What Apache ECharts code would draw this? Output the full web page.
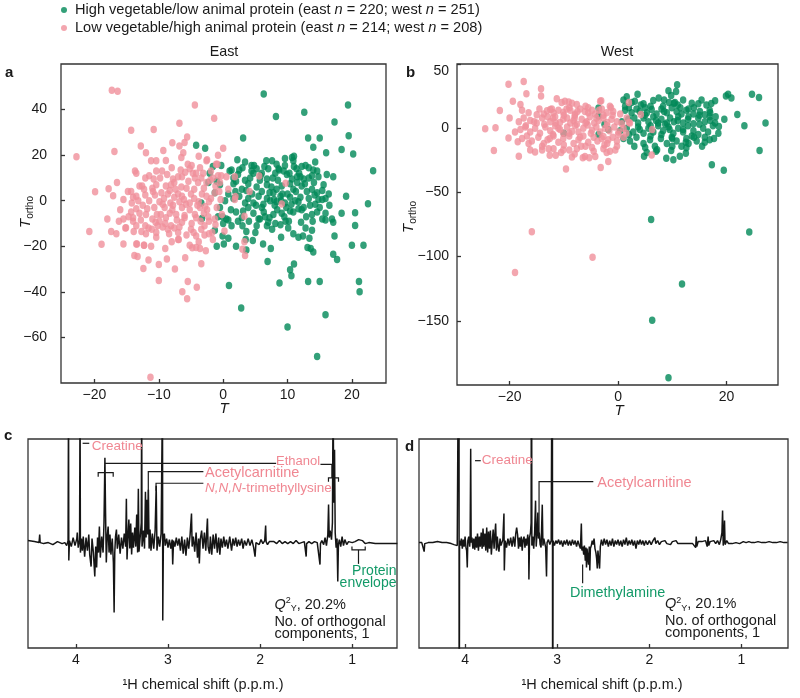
<!DOCTYPE html>
<html><head><meta charset="utf-8">
<script src="https://cdn.jsdelivr.net/npm/echarts@6/dist/echarts.min.js"></script>
<style>html,body{margin:0;padding:0;background:#fff}#c{width:800px;height:698px}</style>
</head><body><div id="c"></div>
<script>
const HIGH = 'High vegetable/low animal protein (east n = 220; west n = 251)';
const LOW = 'Low vegetable/high animal protein (east n = 214; west n = 208)';
const panelTitles = ['East', 'West'];
const xTicksA = [-20, -10, 0, 10, 20];
const xTicksB = [-20, 0, 20];
const ppmTicks = [1, 2, 3, 4];

// Panel a (East), [T, Tortho]
const eastHigh = [
[6.3,46.8],[8.2,37],[12.6,38.8],[19.4,42],[17.3,34.5],[19.5,28.5],[13.2,27.5],[15,27.5],[3.1,27.5],[14,23.5],[16,21],[18.4,22.5],[20.2,20.5],[-4.2,24.3],[-2.8,23],[23.3,13.2],[17.1,10.5],[22.5,-1.3],[19.1,2],[18.4,-5.5],[20.5,-5.3],[20.5,-10.9],[20,-19.5],[21.8,-19.5],[17.7,-25.8],[17.1,-23.5],[17.3,-15.5],[16.9,-8],[17.1,-9.5],[21.1,-35.5],[21.2,-39.9],[15.9,-50],[14.6,-68.4],[10,-55.4],[2.8,-47.1],[0.9,-37.2],[8.75,-36.1],[13.2,-35.5],[15,-35.5],[10.6,-32.9],[10.4,-30.3],[11,-27.8],[6.9,-26.7],[7.4,-21],[3.6,-21.6],[2,-20],[-1,-20],[-3.3,-7.8],
[-1.6,15],[-0.3,15.5],[1.3,13.5],[2.2,18],[2.5,13.5],[3.4,17],[4.4,15.5],[4.8,15.5],[5.2,14],[6.7,17.5],[7.6,17.5],[8.3,16],[8.6,14],[9.6,18.5],[10.7,19],[11,19.5],[10.9,17.5],[12.2,15],[12.8,15.5],[13.3,14.5],[14.3,17],[14,13.5],
[-2.1,12],[-1,8.5],[1,13],[1.6,10],[2.3,11.5],[3.4,9],[3.9,7.5],[4.7,12],[5.7,9],[6.8,9.5],[7.7,10],[8.7,13.5],[9.4,13],[9.9,11.5],[10.3,12],[10.7,9.5],[11.5,8],[12,10.5],[12.5,9.5],[13.3,10],[13.8,11],[14.8,10.5],[16.1,11.5],
[-2.3,8],[-1.3,3.5],[-0.5,7],[1.6,7.5],[2.9,5],[3.6,4.5],[5.2,6],[6,4],[6.8,7],[7.2,3.5],[7.8,3.5],[8.3,5],[9.1,6.5],[10.4,7.5],[10.9,5],[11.3,4],[12.2,6.5],[13,4],[13.8,5],[14.6,3.5],[15.4,4.5],
[-3.4,-1],[0.8,3],[1.6,1],[3.4,-1],[3.9,1],[4.7,-1],[5.1,-2],[6.25,-1.5],[6.8,1],[7.3,0],[7.9,0.5],[8.3,-0.5],[8.9,2],[9.6,-1],[10.4,1.5],[11.2,0],[11.7,-0.5],[12.5,-3],[13.3,1],[14.3,-1.5],[14.8,0.5],[15.4,0.5],[15.9,1],
[-0.8,-7],[-0.1,-7],[0.5,-8],[2,-5],[2.9,-7.5],[3.9,-3],[4.7,-5.5],[5.7,-8],[6.5,-7],[7.2,-7.5],[7.8,-6],[8.4,-4],[9.1,-5.5],[9.5,-7],[10.4,-4.5],[10.9,-5],[11.7,-3.5],[12.2,-4],[13.8,-6],[14.6,-5],[15.4,-8],[15.9,-5.5],
[-1.3,-13],[0,-10],[0.8,-8.5],[2.3,-9],[3.6,-13.5],[5.5,-8],[6.8,-11],[7.6,-12.5],[8.1,-10],[8.9,-10.5],[10.2,-9],[10.9,-14.5],[11.7,-16],[12.8,-12],[13.8,-13],[15.9,-8.5],
[-0.1,-15.5],[0.1,-19],[0.8,-16.5],[13.1,-20.5],[13.6,-21],[14,-22.5],[13.4,-16.5],
[1.2,-4],[2.5,2],[4.2,10],[6,12],[9,0],[10,3],[11.8,12],[12.9,-7],[14.1,8],[5.5,2],[8,-2],[9.8,-3],[3,14.5],[7,14],[11,15],[4,-9],[6,-3],[12,1.5],
[1.9,4],[3.1,-4.5],[4.5,3],[5.8,11],[6.3,-5],[7.5,6],[8.5,9],[9.2,3],[9.7,-9],[10.6,-1.5],[11.5,10.5],[12.1,-9.5],[12.7,7.5],[13.5,-2],[14.2,2.5],[15,-3],[5.2,-11],[3,-11],[2,8.5],[4.4,13],[6.4,15],[8.1,12],[9.6,15.5],[11.4,14],[13.9,-9],[10.1,-12],[7,-9.5],[5,-14],[1.3,-11],[0.3,0],[-0.5,-3],[15.6,7],[16.5,-2],[16.4,3],[12.4,-15.5],[9,-16],[6.2,-19],[4.6,-17.5],[14.6,13],[3.5,-17]
];
const eastLow = [
[-22.8,19.3],[-17.3,48.5],[-16.4,48],[-16.9,21.6],[-14.3,30.9],[-10.8,31.2],[-4.4,42],[-1.4,36.2],[-6.8,34],[-5.6,28],[-7.9,25.4],[-6,25.5],[-12.8,24],[-12,21],[-6.8,24],[0,23],[-0.8,20],
[-20.8,-13.5],[-19.9,3.9],[-18.9,-19.1],[-17.8,5.2],[-17.1,2.2],[-17.4,-13.5],[-16.6,-14.5],[-15.1,-11.9],[-14.3,4],[-13.7,13],[-13.5,12],[-13.4,-19],[-13.8,-24],[-13.3,-24.5],[-12.4,-29.7],[-12.3,-19.5],[-11.6,-26],[-10,-35],[-8.75,-25.6],[-6.9,-17],[-5.9,-25],[-6.35,-40],[-5.6,-43],[-5.5,-35.5],[-4.1,-38],[-3.4,-27.7],[-4.8,-20.6],[-4.2,-20.5],[-11.3,-77.5],[3.3,-18],[3,-21.3],[3.4,-24],[9.7,7.7],[9.1,-1.4],[5.6,10.9],[4.1,4],[1.9,1.9],[1.8,10.5],[3.3,-6.8],[0.2,-13.3],
[-11.2,17.5],[-10.4,17.5],[-8.9,17.6],[-6.5,19],[-5.5,16],[-4.9,15.5],[-3.6,14.5],[-2.6,17.5],[-2.5,18],[-1.1,16],[-0.9,16],[-4.7,12],
[-10.4,13],[-8.7,11.5],[-7.8,9.5],[-7,10.5],[-6.4,10.5],[-5.9,12.5],[-5.2,14],[-4.4,10],[-4.2,12],[-3.1,12],[-1.6,10],[-0.8,11],[-0.3,11],[0.5,10.5],
[-12.1,10],[-13,6.5],[-12.6,6.5],[-12.3,5],[-10.8,9.5],[-10.4,7],[-8.9,6.5],[-8.1,7],[-7.6,8],[-6.5,6],[-5.7,5.5],[-4.5,5],[-3.9,8],[-2.6,8],[-2,9],[-1.2,6.5],[-0.5,8],
[-14.8,4],[-14,1.5],[-13.5,2],[-13.2,0],[-12.1,2.5],[-11.5,0],[-10.9,4],[-10.6,2.5],[-9.9,-0.5],[-9.2,1],[-8.6,3],[-8.2,-1],[-7.6,1.5],[-7,3],[-6.8,-0.5],[-6.4,2],[-6.1,0.5],[-5.2,-1],[-4.5,1],[-3.8,-0.5],[-3.3,3],[-2.6,2],[-2.2,-0.5],[-1.3,3.5],[1.8,0.5],
[-14.7,-7],[-14.3,-5],[-14,-7.5],[-13.5,-3.5],[-13,-5.5],[-12.5,-2],[-12,-6],[-10.7,-3],[-10.3,-6],[-9.1,-3],[-8.3,-5.5],[-7.8,-2],[-7.3,-6],[-6.4,-3],[-6,-6.5],[-5.2,-4],[-4.4,-6],[-3.6,-3],[-3,-5.5],[-2.3,-7],
[-15.2,-12],[-14,-9],[-13.5,-11],[-12.1,-11],[-11.6,-12],[-11.1,-12.5],[-10.4,-14],[-9.9,-9],[-9.4,-11.5],[-9,-10],[-8.6,-12.5],[-8.1,-11],[-7.6,-12],[-6.4,-9.5],[-6,-7.5],[-4.9,-10],[-4.2,-7.5],[-3.4,-12.5],[-2.9,-11],[-2.2,-9],[-1.3,-8],[-1.7,-14],
[-13.5,-19],[-12.3,-19.5],[-12,-14.5],[-10.4,-16],[-7,-17],[-5.7,-15],[-4.2,-15.5],[-3.8,-18],[-2.9,-15],[-2.2,-14.5],[-1.6,-17],[-3.6,-21],
[-9.5,13],[-11.5,11],[-8,14.5],[-3,5.5],[-9.7,-6],[-11,-8],[-7,-14],[-5,-12.5],[-9,-21],[-15.5,-8],[-16,-4],
[-9.8,10],[-8.3,4.5],[-7.2,-8.5],[-5.4,8.5],[-4,-2],[-2.8,-2.5],[-1.9,1],[-0.6,4],[-6.6,13.5],[-8.9,-7.5],[-10.5,-9.5],[-11.8,-3.5],[-12.8,-8.5],[-13.9,-13.5],[-11,5.5],[-9.6,3.5],[-7.4,5],[-5,3],[-3.4,10],[-1.9,13],[-4.6,-14],[-6.8,-11.5],[-8.4,-14.5],[-10.2,-11],[-2.5,-4],[-1,-3],[-0.4,0.5],[-5.8,-1.5],[-7.9,-4],[-9.4,-1.5],[-12.7,-13.5],[-14.2,-1],[-15.5,0.5],[-16.2,-9],[-3.5,-9],[-1.2,-10.5],[0.8,5],[-0.2,-6],[-6.2,21],[-9.3,22],[-3.8,19.5],[-11.2,-20],[-8,-18],[-5.2,-19.5],[-2.7,-22],[-10,-28],[-7.5,-30],[-15.5,-19],[-16.5,8],[-18,-8]
];

// Panel b (West), [T, Tortho]
const westHigh = [
[6.1,-71.1],[6.3,-149.5],[9.3,-194.3],[11.8,-121.4],[24.2,-80.9],[17.3,-28.4],[19.5,-32.7],[26.1,-17.3],[27.2,4.1],[24.7,26.5],[26,24],[23.3,2],[22,10.6],[19.9,25],[20.3,26.5],[20.9,23.5],[17.9,21.4],[17.2,19.3],[10.9,33.8],[10.7,28.6],[9.3,29.1],[9.8,25.5],[3.6,26.5],[1.6,24.5],[7.5,23.5],[1.3,17],[-3.6,15.7],[-3.6,9.5],[19.6,7],[18.6,1.3],[17.7,-8],[12.5,-19.6],[11.4,-21.9],[10.2,-24.5],[8.9,-23.5],[4.8,-21.9],[5.3,-19],[7.2,-16.8],[9.8,-17.3],[12.6,-15.2],
[1,22],[3.1,21],[4.2,18],[4.7,19],[6.5,21.5],[8.3,17],[9.4,20],[10.3,19.5],[10.5,20],[12,22],[13.6,19.5],[14.8,19],[15.4,22],[16.3,18],
[1.3,14],[2.5,12],[3.4,15],[5.3,12],[6.2,14.5],[7.1,11],[8,15],[9,12],[9.9,16],[10.8,13],[11.7,11],[12.6,14],[13.9,11],[15.1,13],[16,10.5],[16.9,14],
[0.7,5],[1.9,7],[3.7,4],[4.7,8],[5.6,5],[6.5,9],[7.4,4],[8,7],[8.7,3],[9.6,8],[10.3,5],[11.1,9],[12,4],[12.9,7],[13.9,3.5],[14.8,8],[16,5],[16.9,9],[17.9,4],
[0.4,-2],[1.6,0],[2.8,-3],[3.7,1],[4.7,-4],[5.6,0],[6.5,-3],[7.4,2],[8.3,-2],[9.3,1],[10.2,-4],[11.1,0],[12,-3],[12.9,2],[13.9,-2],[14.8,-5],[15.7,0],[16.6,-3],[17.5,2],
[1,-8],[2.2,-10],[3.4,-7],[4.7,-12],[5.9,-9],[6.8,-14],[7.9,-8],[9,-12],[9.9,-7],[10.8,-10],[11.7,-14],[12.6,-8],[13.6,-6],[14.5,-10],[16,-7],[16.9,-9],
[-10,-4],[-1.8,-1],[-3.6,-5],[-2.5,3],[2,16],[5,16],[8.5,22],[11.5,16],[14,16],[6,2],[9.5,-1],[13,-12],[3,-14],[15.5,-14],
[2,-5],[3,8],[4,-1],[5,10],[6,-6],[7,6],[8,-5],[9,4],[10,-8],[11,6],[12,-1],[13,9],[14,-7],[15,3],[16,-11],[17,6],[8.5,13],[11,18],[13,15],[6,17],[4,13],[2.5,20],[10,-14],[7,-18],[12.5,-11],[15,10],[17,12],[18.5,-4],[18,9],[5,-15]
];
const westLow = [
[-24.5,-0.5],[-22.6,0.3],[-22.9,-17.3],[-20.2,34.3],[-17.4,36.3],[-16.9,26.8],[-14.2,30.7],[-14.2,25],[-19.4,20.9],[-21.8,13.7],[-20,8],[-20.2,-7.7],[-18.5,-10.6],[-18.3,-21.9],[-15.9,-80.7],[-19,-112.4],[-4.7,-100.5],[-9.6,-31.7],[-3.2,-30.7],[-1.8,-26],[-11.3,22.9],[6.2,-20.9],[6.3,-1],[2,20],[4.2,10.6],[2.2,4],[-1.3,16],[-3.1,21.4],
[-18,18.5],[-17.7,14],[-10.4,20],[-9.8,21],[-9.1,20.5],[-8.5,19.5],[-7.6,18.5],[-12.2,15],[-12.5,14.5],[-3.3,21],[-1.5,17],
[-16.5,12],[-15,10.5],[-13.7,11],[-13.1,13.5],[-11.9,12],[-11,14],[-10.1,12.5],[-8.8,14],[-7.9,11],[-7,15],[-6.1,13],[-5.5,12],[-4.8,14],[-4.2,11],[-2.7,10],[-2.1,12],[-0.9,13],[0.4,11],
[-18.3,5],[-17.4,8],[-16.2,6],[-15,4],[-14,8],[-13.6,3],[-12.5,5],[-11.6,9],[-10.7,4.5],[-10.1,7],[-9.4,8],[-8.8,4],[-8.2,6],[-7.6,3],[-6.7,7],[-5.8,5],[-5.2,9],[-4.4,4],[-3.6,6],[-2.7,8],[-2,4.5],[-1.2,7],[-0.2,5],[0.7,3.5],[1.6,8],
[-18,-1],[-17.1,1],[-16.2,-3],[-15.3,0],[-14.4,-4],[-13.4,1],[-12.5,-2],[-11.6,2],[-10.7,-1],[-10.1,-4],[-9.4,1],[-8.5,-2.5],[-7.9,2],[-7.3,-3],[-6.4,0],[-5.6,2.5],[-4.8,-1.5],[-4,1],[-3.3,-3],[-2.4,0],[-1.6,-2],[-0.7,1],[0.1,-3],[1,0],
[-17.7,-8],[-16.8,-6],[-15.9,-10],[-14.7,-7],[-13.7,-12],[-12.6,-8],[-11.9,-6],[-11,-11],[-10.1,-8],[-9,-6],[-8.2,-12],[-7.3,-9],[-6.4,-6],[-5.5,-11],[-4.5,-7],[-3.8,-10],[-2.7,-6.5],[-1.8,-9],[-1,-7],[-0.2,-10],[1,-7],
[-16.2,-17],[-15.3,-18.5],[-14,-17],[-12.6,-21],[-11.9,-16],[-11.5,-21],[-10.1,-17],[-8.5,-22.5],[-7.6,-16],[-6.5,-23],[-6.1,-22],[-5.3,-23],[-4.2,-22],[-4.8,-15],[-2.7,-16],[-2.1,-19],[-1.5,-18],[-0.2,-14],
[-9,16],[-6,17],[-12,8],[-8,10],[-3,15],[-14.5,15],[-10,-13],[-6,-14],[-2,-12],
[-13,9],[-12,-5],[-11,0],[-10,10],[-9,-4],[-8,8],[-7,-7],[-6,4],[-5,-4],[-4,8],[-3,-8],[-2,2],[-1,10],[0,-5],[-14,-14],[-13,-9],[-9.5,15],[-7.5,13],[-5.5,16],[-3.5,14],[-6.8,-14],[-4.5,-18],[-2.5,-13],[-9,-17],[-11.5,4],[-15.5,5],[-16.5,-12],[-17,2],[-19,-3],[-8,-20],[-0.5,-17],[1.5,-4],[2,4.5],[-10.5,-19],[-12.8,-16]
];

// Panel c spectrum (East), [ppm, loading]
const spectrumEast = [
[4.52,2],[4.45,1],[4.40,0],[4.393,8],[4.388,0],[4.35,-1],[4.30,0],[4.25,-2],[4.20,1],[4.15,-1],[4.12,0],[4.10,-3],[4.085,2],[4.08,150],[4.077,-18],[4.07,2],[4.05,-4],[4.03,5],[4.01,-3],[3.99,4],[3.985,10],[3.975,-5],[3.96,3],[3.955,150],[3.951,-10],[3.94,4],[3.93,-8],[3.92,6],[3.905,-14],[3.89,5],[3.875,-8],[3.86,8],[3.85,-12],[3.835,-24],[3.825,4],[3.81,-10],[3.795,-34],[3.785,-4],[3.775,-25],[3.765,5],[3.755,-10],[3.745,16],[3.735,-15],[3.72,6],[3.705,-10],[3.695,20],[3.685,85],[3.678,30],[3.67,-20],[3.66,6],[3.65,16],[3.64,-10],[3.63,8],[3.62,-12],[3.605,4],[3.593,-20],[3.585,-70],[3.578,-10],[3.57,6],[3.56,13],[3.55,-6],[3.535,8],[3.52,-11],[3.505,5],[3.49,-6],[3.475,9],[3.46,-4],[3.452,44],[3.445,-17],[3.435,6],[3.425,23],[3.415,-6],[3.405,19],[3.395,-12],[3.385,10],[3.375,-5],[3.36,15],[3.35,-4],[3.34,28],[3.33,-10],[3.322,54],[3.315,-9],[3.30,8],[3.29,20],[3.286,150],[3.282,-4],[3.265,12],[3.255,-6],[3.245,51],[3.238,5],[3.228,43],[3.22,8],[3.213,53],[3.205,-6],[3.195,13],[3.185,-8],[3.17,9],[3.155,-6],[3.14,12],[3.128,57],[3.12,-8],[3.105,6],[3.09,-4],[3.075,9],[3.06,150],[3.057,-78],[3.05,4],[3.04,9],[3.03,-3],[3.015,4],[3.0,-5],[2.985,3],[2.97,-6],[2.955,3],[2.949,-22],[2.94,2],[2.925,-4],[2.91,5],[2.895,-3],[2.88,4],[2.865,-8],[2.85,6],[2.835,-11],[2.82,3],[2.805,-13],[2.79,5],[2.775,-6],[2.76,8],[2.745,29],[2.738,-4],[2.725,6],[2.71,-9],[2.695,10],[2.68,-15],[2.668,4],[2.66,-21],[2.65,3],[2.635,12],[2.62,-6],[2.605,10],[2.59,-8],[2.578,14],[2.572,24],[2.565,-4],[2.55,-11],[2.54,6],[2.525,-12],[2.51,8],[2.495,-6],[2.48,9],[2.465,-10],[2.45,5],[2.437,-12],[2.425,4],[2.41,-5],[2.395,6],[2.38,-4],[2.365,3],[2.35,-6],[2.33,6],[2.31,-8],[2.295,4],[2.28,-3],[2.265,5],[2.25,-4],[2.235,3],[2.22,-3],[2.20,4],[2.185,-6],[2.17,2],[2.15,-3],[2.13,4],[2.11,-3],[2.09,3],[2.07,-5],[2.055,-14],[2.045,0],[2.03,2],[2.01,-2],[1.99,3],[1.97,-1],[1.95,2],[1.94,17],[1.935,1],[1.92,-2],[1.90,1],[1.88,-1],[1.85,1],[1.82,-1],[1.79,2],[1.76,-1],[1.73,1],[1.70,-1],[1.67,1],[1.64,-1],[1.61,2],[1.58,-1],[1.55,0],[1.52,1],[1.505,-1],[1.5,-14],[1.495,-1],[1.47,1],[1.44,-1],[1.41,1],[1.38,0],[1.36,-2],[1.35,-22],[1.345,-1],[1.33,2],[1.31,-2],[1.295,5],[1.28,-3],[1.265,8],[1.257,38],[1.25,5],[1.24,12],[1.225,3],[1.215,20],[1.208,150],[1.2,40],[1.192,93],[1.185,10],[1.175,-5],[1.165,4],[1.157,-39],[1.15,-2],[1.14,3],[1.125,-4],[1.11,6],[1.095,-3],[1.08,3],[1.06,-2],[1.04,1],[1.02,-1],[1.0,0],[0.97,1],[0.95,2],[0.93,3],[0.91,1],[0.89,2],[0.86,-1],[0.82,0],[0.75,-1],[0.65,-1],[0.55,-1],[0.51,-1]
];
// Panel d spectrum (West), [ppm, loading]
const spectrumWest = [
[4.50,0],[4.47,0],[4.45,-1],[4.444,-9],[4.438,-1],[4.40,0],[4.35,0],[4.30,1],[4.25,0],[4.20,0],[4.15,-1],[4.12,-2],[4.10,-4],[4.085,-3],[4.072,-2],[4.066,300],[4.064,-300],[4.06,2],[4.05,-3],[4.04,4],[4.03,-6],[4.02,3],[4.01,-4],[4.0,6],[3.99,-5],[3.983,-8],[3.976,-25],[3.97,2],[3.96,6],[3.95,-4],[3.945,3],[3.939,94],[3.934,0],[3.925,5],[3.915,-6],[3.905,4],[3.895,-7],[3.885,6],[3.875,-5],[3.865,9],[3.855,-8],[3.845,6],[3.835,-4],[3.825,10],[3.815,-6],[3.805,14],[3.797,-4],[3.785,9],[3.775,-8],[3.765,15],[3.755,-10],[3.745,11],[3.735,-6],[3.725,12],[3.715,-12],[3.705,-11],[3.695,13],[3.685,-6],[3.675,10],[3.668,19],[3.66,-8],[3.65,6],[3.64,-5],[3.632,-9],[3.62,4],[3.61,-3],[3.60,-5],[3.59,3],[3.578,29],[3.574,-28],[3.565,2],[3.55,-5],[3.535,4],[3.52,-3],[3.505,5],[3.49,-4],[3.475,6],[3.46,-4],[3.45,9],[3.44,15],[3.43,8],[3.42,-6],[3.41,5],[3.40,-4],[3.39,6],[3.38,-8],[3.37,3],[3.36,6],[3.35,-5],[3.34,4],[3.33,-3],[3.32,8],[3.31,-2],[3.307,-37],[3.30,5],[3.29,10],[3.283,20],[3.279,300],[3.275,-3],[3.265,6],[3.255,-6],[3.245,10],[3.235,42],[3.228,-4],[3.22,8],[3.21,30],[3.203,4],[3.195,10],[3.185,-2],[3.175,-5],[3.162,38],[3.155,-3],[3.145,4],[3.135,2],[3.125,-5],[3.116,-34],[3.11,0],[3.095,3],[3.08,-2],[3.065,2],[3.053,300],[3.049,-300],[3.045,2],[3.03,-3],[3.015,2],[3.0,-1],[2.985,3],[2.97,-2],[2.955,2],[2.94,-4],[2.925,2],[2.91,-2],[2.895,3],[2.88,-3],[2.865,2],[2.85,-3],[2.835,3],[2.82,-2],[2.805,2],[2.79,-4],[2.775,2],[2.76,-3],[2.748,-6],[2.738,19],[2.732,-8],[2.722,-4],[2.712,-12],[2.705,-3],[2.695,-18],[2.688,-5],[2.682,-25],[2.676,-6],[2.668,-15],[2.66,-22],[2.652,-4],[2.646,-28],[2.64,-6],[2.63,-3],[2.62,2],[2.61,-2],[2.60,4],[2.59,-6],[2.58,-10],[2.572,-16],[2.565,-26],[2.558,-8],[2.548,-18],[2.54,-26],[2.532,-4],[2.52,3],[2.505,-3],[2.49,4],[2.475,-2],[2.46,3],[2.445,-4],[2.43,2],[2.415,-3],[2.40,4],[2.385,-4],[2.37,2],[2.355,-2],[2.34,3],[2.325,-3],[2.31,2],[2.295,-4],[2.28,3],[2.265,-2],[2.25,5],[2.235,-3],[2.22,2],[2.205,-2],[2.19,3],[2.175,-3],[2.16,2],[2.145,-6],[2.13,2],[2.115,-2],[2.10,3],[2.085,-2],[2.07,2],[2.055,-3],[2.04,2],[2.02,-2],[2.0,2],[1.98,-2],[1.96,2],[1.94,5],[1.93,-1],[1.91,2],[1.89,-2],[1.87,1],[1.85,-1],[1.83,2],[1.81,-1],[1.79,1],[1.77,-2],[1.75,1],[1.73,-1],[1.71,2],[1.69,-1],[1.67,1],[1.65,-1],[1.63,1],[1.61,-1],[1.59,1],[1.57,-1],[1.55,1],[1.53,-1],[1.51,1],[1.497,-5],[1.491,6],[1.485,-4],[1.47,1],[1.45,-1],[1.43,1],[1.41,-1],[1.39,2],[1.372,-4],[1.362,6],[1.355,-3],[1.34,1],[1.32,-1],[1.30,2],[1.28,-1],[1.26,2],[1.24,-2],[1.225,3],[1.212,10],[1.205,32],[1.198,-3],[1.19,6],[1.184,22],[1.178,-2],[1.16,2],[1.14,-1],[1.12,1],[1.10,-1],[1.08,1],[1.06,0],[1.04,1],[1.02,-1],[1.0,0],[0.98,1],[0.95,0],[0.92,1],[0.89,0],[0.86,0],[0.82,1],[0.78,0],[0.74,0],[0.70,1],[0.66,0],[0.62,0],[0.58,1],[0.54,0],[0.50,0]
];

const FONT = '"Liberation Sans", Arial, Helvetica, sans-serif';
const GREEN = '#008858', PINK = '#f0909b', PINKT = '#f08792', GREENT = '#139a68';
const AX = '#333', TXT = '#1a1a1a';
const minus = v => String(v).replace('-', '\u2212');

const chart = echarts.init(document.getElementById('c'), null, {renderer: 'canvas'});

function gridBox(l, t, w, h) {
  return {left: l, top: t, width: w, height: h, show: true, borderColor: AX, borderWidth: 1.3, backgroundColor: 'transparent', containLabel: false};
}
function valX(gi, min, max, ticks, inverse) {
  return {gridIndex: gi, type: 'value', min: min, max: max, inverse: !!inverse,
    splitLine: {show: false}, axisLine: {show: false, onZero: false},
    axisTick: {show: true, inside: true, length: 4, customValues: ticks, lineStyle: {color: AX, width: 1.3}},
    axisLabel: {customValues: ticks, fontSize: 14, color: TXT, fontFamily: FONT, margin: 5, formatter: minus}};
}
const scatterSym = {symbol: 'circle', symbolSize: [6.5, 7.5]};

const option = {
  animation: false,
  textStyle: {fontFamily: FONT},
  legend: {
    data: [HIGH, LOW], orient: 'vertical', left: 61, top: 2, padding: 0, itemGap: 2,
    icon: 'circle', itemWidth: 6, itemHeight: 6, selectedMode: false,
    textStyle: {fontSize: 14.6, color: TXT, fontFamily: FONT, lineHeight: 16, padding: [0, 0, 0, 3],
      rich: {i: {fontStyle: 'italic', fontSize: 14.6, fontFamily: FONT, color: TXT}}},
    formatter: n => n.replace(/ n = /g, ' {i|n} = ')
  },
  grid: [gridBox(61, 64, 325, 319), gridBox(457, 64, 321, 321), gridBox(28, 439, 369, 209), gridBox(419, 439, 369, 209)],
  xAxis: [
    valX(0, -25.2, 25.3, xTicksA),
    valX(1, -29.7, 29.5, xTicksB),
    valX(2, 0.514, 4.52, ppmTicks, true),
    valX(3, 0.495, 4.5, ppmTicks, true)
  ],
  yAxis: [
    {gridIndex: 0, type: 'value', min: -80, max: 60, interval: 20, splitLine: {show: false},
      axisLine: {show: false, onZero: false},
      axisTick: {inside: true, length: 4, lineStyle: {color: AX, width: 1.3}},
      axisLabel: {showMinLabel: false, showMaxLabel: false, fontSize: 14, color: TXT, fontFamily: FONT, margin: 14, formatter: minus}},
    {gridIndex: 1, type: 'value', min: -200, max: 50, interval: 50, splitLine: {show: false},
      axisLine: {show: false, onZero: false},
      axisTick: {inside: true, length: 4, lineStyle: {color: AX, width: 1.3}},
      axisLabel: {showMinLabel: false, showMaxLabel: true, verticalAlignMaxLabel: 'top', fontSize: 14, color: TXT, fontFamily: FONT, margin: 8, formatter: minus}},
    {gridIndex: 2, type: 'value', min: -105.5, max: 103.7, splitLine: {show: false}, axisLine: {show: false, onZero: false}, axisTick: {show: false}, axisLabel: {show: false}},
    {gridIndex: 3, type: 'value', min: -105.5, max: 103.7, splitLine: {show: false}, axisLine: {show: false, onZero: false}, axisTick: {show: false}, axisLabel: {show: false}}
  ],
  series: [
    Object.assign({type: 'scatter', name: HIGH, xAxisIndex: 0, yAxisIndex: 0, data: eastHigh, itemStyle: {color: GREEN}}, scatterSym),
    Object.assign({type: 'scatter', name: LOW, xAxisIndex: 0, yAxisIndex: 0, data: eastLow, itemStyle: {color: PINK}}, scatterSym),
    Object.assign({type: 'scatter', name: HIGH, xAxisIndex: 1, yAxisIndex: 1, data: westHigh, itemStyle: {color: GREEN}}, scatterSym),
    Object.assign({type: 'scatter', name: LOW, xAxisIndex: 1, yAxisIndex: 1, data: westLow, itemStyle: {color: PINK}}, scatterSym),
    {type: 'line', name: 'East spectrum', xAxisIndex: 2, yAxisIndex: 2, data: spectrumEast, showSymbol: false, symbol: 'none', clip: true,
      lineStyle: {color: '#151515', width: 1.5}},
    {type: 'line', name: 'West spectrum', xAxisIndex: 3, yAxisIndex: 3, data: spectrumWest, showSymbol: false, symbol: 'none', clip: true,
      lineStyle: {color: '#151515', width: 1.5}}
  ]
};
chart.setOption(option);

// ---- annotations ----
function px(g, x, y) { return chart.convertToPixel({gridIndex: g}, [x, y]); }
function seg(g, pts) {
  return {type: 'polyline', silent: true, z: 10, shape: {points: pts.map(p => px(g, p[0], p[1]))},
    style: {stroke: '#1a1a1a', lineWidth: 1.2, fill: null}};
}
function txtAt(x, y, text, extra) {
  return {type: 'text', silent: true, z: 10, x: x, y: y,
    style: Object.assign({text: text, fill: TXT, fontSize: 14, fontFamily: FONT, align: 'left', verticalAlign: 'middle'}, extra || {})};
}
function txt(g, x, y, text, extra) { const p = px(g, x, y); return txtAt(p[0], p[1], text, extra); }
const qRich = {
  q: {fontStyle: 'italic', fontSize: 14.5, fontFamily: FONT, fill: TXT},
  sup: {fontSize: 9, fontFamily: FONT, fill: TXT, verticalAlign: 'top', lineHeight: 9},
  sub: {fontSize: 9, fontFamily: FONT, fill: TXT, verticalAlign: 'bottom', lineHeight: 9},
  n: {fontSize: 14.5, fontFamily: FONT, fill: TXT, lineHeight: 17}
};
const tRich = {
  t: {fontStyle: 'italic', fontSize: 15, fontFamily: FONT, fill: TXT, lineHeight: 18},
  s: {fontSize: 10, fontFamily: FONT, fill: TXT, verticalAlign: 'bottom', lineHeight: 11}
};
const g = [];
g.push(txtAt(224, 52, panelTitles[0], {align: 'center', fontSize: 14.3}));
g.push(txtAt(617, 52, panelTitles[1], {align: 'center', fontSize: 14.3}));
g.push(txtAt(5, 73, 'a', {fontWeight: 'bold', fontSize: 15}));
g.push(txtAt(406, 73, 'b', {fontWeight: 'bold', fontSize: 15}));
g.push(txtAt(4, 436, 'c', {fontWeight: 'bold', fontSize: 15}));
g.push(txtAt(405, 447, 'd', {fontWeight: 'bold', fontSize: 15}));
g.push(txtAt(224, 409, 'T', {align: 'center', fontStyle: 'italic', fontSize: 15}));
g.push(txtAt(619, 411, 'T', {align: 'center', fontStyle: 'italic', fontSize: 15}));
g.push(Object.assign(txtAt(26, 212, '{t|T}{s|ortho}', {align: 'center', rich: tRich}), {rotation: Math.PI / 2}));
g.push(Object.assign(txtAt(409, 217, '{t|T}{s|ortho}', {align: 'center', rich: tRich}), {rotation: Math.PI / 2}));
g.push(txtAt(203, 685, '\u00b9H chemical shift (p.p.m.)', {align: 'center', fontSize: 14.5}));
g.push(txtAt(602, 685, '\u00b9H chemical shift (p.p.m.)', {align: 'center', fontSize: 14.5}));

// panel c annotations
g.push(seg(2, [[3.927, 99.4], [3.855, 99.4]]));
g.push(txt(2, 3.829, 96, 'Creatine', {fill: PINKT, fontSize: 13.5}));
g.push(seg(2, [[3.685, 79.4], [1.826, 79.4]]));
g.push(txt(2, 1.348, 81.7, 'Ethanol', {fill: PINKT, fontSize: 13, align: 'right'}));
g.push(seg(2, [[1.345, 78.4], [1.221, 78.4], [1.221, 64.7]]));
g.push(seg(2, [[1.258, 61], [1.258, 64.7], [1.149, 64.7], [1.149, 61]]));
g.push(seg(2, [[3.758, 66], [3.758, 70], [3.595, 70], [3.595, 66]]));
g.push(seg(2, [[3.214, 40], [3.214, 71], [2.616, 71]]));
g.push(txt(2, 2.598, 69.4, 'Acetylcarnitine', {fill: PINKT, fontSize: 14.5}));
g.push(seg(2, [[3.13, 52], [3.13, 59.4], [2.616, 59.4]]));
g.push(txt(2, 2.598, 54.4, '{i|N,N,N}-trimethyllysine', {fill: PINKT, fontSize: 13.5,
  rich: {i: {fontStyle: 'italic', fontSize: 13.5, fontFamily: FONT, fill: PINKT}}}));
g.push(seg(2, [[1.003, -4], [1.003, -7.3], [0.859, -7.3], [0.859, -4]]));
g.push(seg(2, [[0.932, -7.3], [0.932, -21.3]]));
g.push(txt(2, 0.52, -28.3, 'Protein', {fill: GREENT, fontSize: 14, align: 'right'}));
g.push(txt(2, 0.52, -40.6, 'envelope', {fill: GREENT, fontSize: 14, align: 'right'}));
g.push(txt(2, 1.845, -62.3, '{q|Q}{sup|2}{sub|Y}{n|, 20.2%}', {rich: qRich}));
g.push(txt(2, 1.845, -79, 'No. of orthogonal', {fontSize: 14.5}));
g.push(txt(2, 1.845, -91.3, 'components, 1', {fontSize: 14.5}));

// panel d annotations
g.push(seg(3, [[3.892, 82], [3.83, 82]]));
g.push(txt(3, 3.819, 82, 'Creatine', {fill: PINKT, fontSize: 13.5}));
g.push(seg(3, [[3.197, 5], [3.197, 61], [2.608, 61]]));
g.push(txt(3, 2.565, 60, 'Acetylcarnitine', {fill: PINKT, fontSize: 14.5}));
g.push(seg(3, [[2.724, -22], [2.724, -40.6]]));
g.push(txt(3, 2.861, -50.6, 'Dimethylamine', {fill: GREENT, fontSize: 14.4}));
g.push(txt(3, 1.83, -61.6, '{q|Q}{sup|2}{sub|Y}{n|, 20.1%}', {rich: qRich}));
g.push(txt(3, 1.83, -78.3, 'No. of orthogonal', {fontSize: 14.5}));
g.push(txt(3, 1.83, -90.6, 'components, 1', {fontSize: 14.5}));

chart.setOption({graphic: g});
</script></body></html>
